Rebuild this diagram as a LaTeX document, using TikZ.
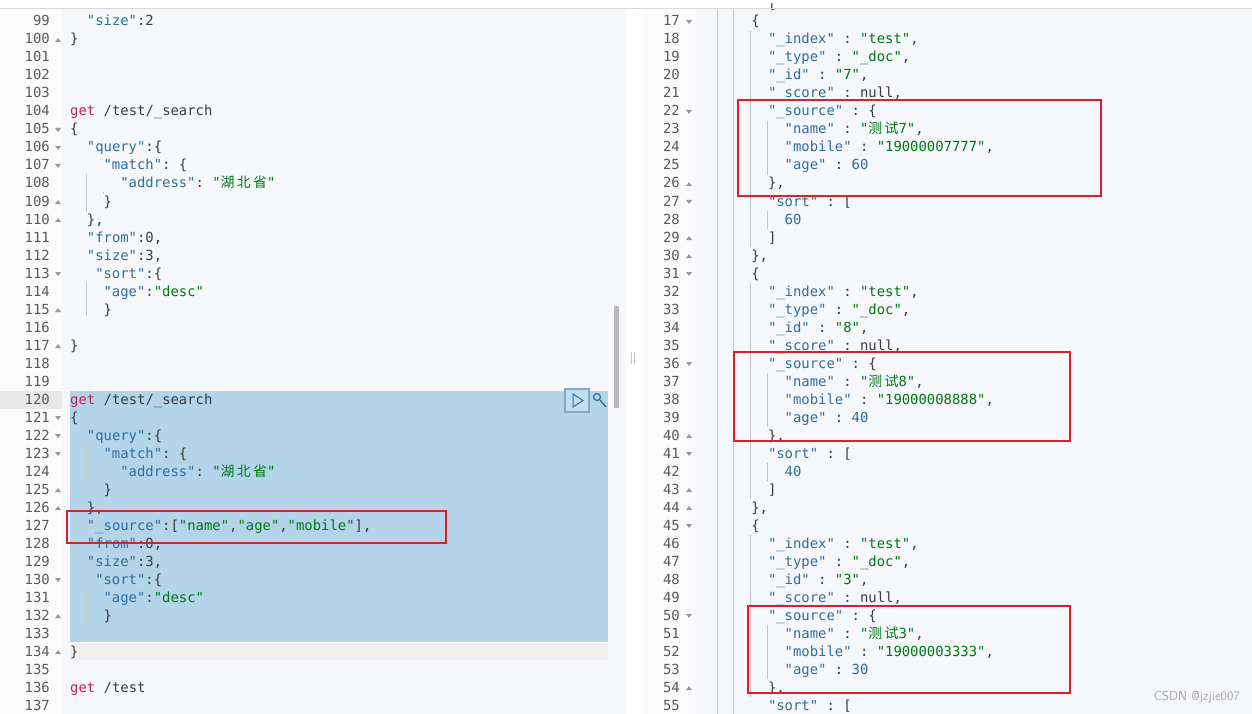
\documentclass[tikz,border=0pt]{standalone}
\usepackage{fontspec}
\setmonofont{DejaVu Sans Mono}
\newfontfamily\cjk{Noto Sans CJK SC}
\definecolor{kc}{RGB}{46,110,160}
\definecolor{sc}{RGB}{0,120,20}
\definecolor{pc}{RGB}{60,60,60}
\definecolor{gc}{RGB}{200,30,80}
\definecolor{nc}{RGB}{90,90,90}
\definecolor{bg}{RGB}{247,248,251}
\definecolor{sel}{RGB}{179,212,233}
\definecolor{rb}{RGB}{225,30,40}
\newcommand\K[1]{\textcolor{kc}{#1}}
\newcommand\St[1]{\textcolor{sc}{#1}}
\newcommand\Cj[1]{{\cjk #1}}
\tikzset{
  code/.style={anchor=base west,inner sep=0,font=\ttfamily\fontsize{13.9}{14}\selectfont,text=pc},
  num/.style={anchor=base east,inner sep=0,font=\ttfamily\fontsize{13.9}{14}\selectfont,text=nc},
  fold/.style={fill=gray!80,draw=none},
  redbox/.style={draw=rb,line width=1.6pt},
  guide/.style={draw=gray!45,line width=0.6pt}
}
\newcommand\Lt[3]{\node[code] at ({70+#2*8.35},{26+(#1-99)*18}) {#3};}
\newcommand\Rt[3]{\node[code] at ({701+#2*8.35},{26+(#1-17)*18}) {#3};}
\newcommand\Fd[2]{\fill[fold] ({#1-3},{#2-2}) -- ({#1+3},{#2-2}) -- (#1,{#2+2}) -- cycle;}
\newcommand\Fu[2]{\fill[fold] ({#1-3},{#2+2}) -- ({#1+3},{#2+2}) -- (#1,{#2-2}) -- cycle;}
\begin{document}
\begin{tikzpicture}[x=1pt,y=-1pt]
\useasboundingbox (0,0) rectangle (1252,714);
\fill[white] (0,0) rectangle (1252,714);
\fill[bg] (0,9) rectangle (625,714);
\fill[bg] (642,9) rectangle (1252,714);
\fill[white!97!gray] (0,9) rectangle (62,714);
\fill[white!97!gray] (642,9) rectangle (695,714);
\node[code] at ({701+8*8.35},9) {[};
\fill[white] (642,0) rectangle (1252,3);
\draw[gray!30] (0,8.5) -- (1252,8.5);
% selection
\fill[sel] (70,391) rectangle (608,642);
\fill[gray!18] (0,391) rectangle (62,409);
\fill[gray!12] (70,643) rectangle (608,660);
% scrollbar
\fill[gray!55] (614,306) rectangle (619,408);
\node[font=\sffamily\fontsize{12}{12}\selectfont,text=gray] at (633,358) {||};
% run button
\draw[kc!60,line width=1.2pt,fill=sel!80] (565,389) rectangle (589,412);
\draw[kc,line width=1pt] (573,394) -- (583,400.5) -- (573,407) -- cycle;
\draw[kc,line width=1.2pt] (597,397) circle (3.5);
\draw[kc,line width=1.4pt] (600,400) -- (606,407);
% left line numbers
\foreach \n in {99,...,137}{\node[num] at (50,{26+(\n-99)*18}) {\n};}
\foreach \n in {105,106,107,113,121,122,123,130}{\Fd{58}{22+(\n-99)*18}}
\foreach \n in {100,109,110,115,117,125,126,132,134}{\Fu{58}{22+(\n-99)*18}}
% left guides
\draw[guide] (86.5,{22+8*18+8}) -- (86.5,{22+11*18-8});
\draw[guide] (103,{22+9*18+8}) -- (103,{22+10*18-8});
\draw[guide] (86.5,{22+14*18+8}) -- (86.5,{22+16*18+6});
\draw[guide] (86.5,{22+23*18+8}) -- (86.5,{22+26*18-8});
\draw[guide] (103,{22+24*18+8}) -- (103,{22+25*18-8});
\draw[guide] (86.5,{22+31*18+8}) -- (86.5,{22+33*18+6});
% left code
\Lt{99}{2}{\K{"size"}:2}
\Lt{100}{0}{\}}
\Lt{104}{0}{\textcolor{gc}{get} /test/\_search}
\Lt{105}{0}{\{}
\Lt{106}{2}{\K{"query"}:\{}
\Lt{107}{4}{\K{"match"}: \{}
\Lt{108}{6}{\K{"address"}: \St{"\Cj{湖\,北\,省}"}}
\Lt{109}{4}{\}}
\Lt{110}{2}{\},}
\Lt{111}{2}{\K{"from"}:0,}
\Lt{112}{2}{\K{"size"}:3,}
\Lt{113}{3}{\K{"sort"}:\{}
\Lt{114}{4}{\K{"age"}:\St{"desc"}}
\Lt{115}{4}{\}}
\Lt{117}{0}{\}}
\Lt{120}{0}{\textcolor{gc}{get} /test/\_search}
\Lt{121}{0}{\{}
\Lt{122}{2}{\K{"query"}:\{}
\Lt{123}{4}{\K{"match"}: \{}
\Lt{124}{6}{\K{"address"}: \St{"\Cj{湖\,北\,省}"}}
\Lt{125}{4}{\}}
\Lt{126}{2}{\},}
\Lt{127}{2}{\K{"\_source"}:[\St{"name"},\St{"age"},\St{"mobile"}],}
\Lt{128}{2}{\K{"from"}:0,}
\Lt{129}{2}{\K{"size"}:3,}
\Lt{130}{3}{\K{"sort"}:\{}
\Lt{131}{4}{\K{"age"}:\St{"desc"}}
\Lt{132}{4}{\}}
\Lt{134}{0}{\}}
\Lt{136}{0}{\textcolor{gc}{get} /test}
% right line numbers
\foreach \n in {17,...,55}{\node[num] at (680,{26+(\n-17)*18}) {\n};}
\foreach \n in {17,22,27,31,36,41,45,50}{\Fd{689}{22+(\n-17)*18}}
\foreach \n in {26,29,30,40,43,44,54}{\Fu{689}{22+(\n-17)*18}}
% right guides
\draw[guide] (717,9) -- (717,714);
\draw[guide] (733,9) -- (733,714);
\foreach \a/\b in {17/30,31/44,45/55}{\draw[guide] (750,{22+(\a-17)*18+9}) -- (750,{22+(\b-17)*18-9});}
\foreach \a in {22,36,50}{\draw[guide] (767,{22+(\a-17)*18+9}) -- (767,{22+(\a+4-17)*18-9});}
\foreach \a in {27,41}{\draw[guide] (767,{22+(\a-17)*18+9}) -- (767,{22+(\a+2-17)*18-9});}
% right code
\foreach \b/\id/\nm/\mb/\ag in {17/7/7/19000007777/60,31/8/8/19000008888/40,45/3/3/19000003333/30}{
  \Rt{\b}{6}{\{}
  \Rt{\b+1}{8}{\K{"\_index"} : \St{"test"},}
  \Rt{\b+2}{8}{\K{"\_type"} : \St{"\_doc"},}
  \Rt{\b+3}{8}{\K{"\_id"} : \St{"\id"},}
  \Rt{\b+4}{8}{\K{"\_score"} : null,}
  \Rt{\b+5}{8}{\K{"\_source"} : \{}
  \Rt{\b+6}{10}{\K{"name"} : \St{"\Cj{测\,试}\nm"},}
  \Rt{\b+7}{10}{\K{"mobile"} : \St{"\mb"},}
  \Rt{\b+8}{10}{\K{"age"} : \K{\ag}}
  \Rt{\b+9}{8}{\},}
}
\foreach \b/\ag in {17/60,31/40}{
  \Rt{\b+10}{8}{\K{"sort"} : [}
  \Rt{\b+11}{10}{\K{\ag}}
  \Rt{\b+12}{8}{]}
  \Rt{\b+13}{6}{\},}
}
\Rt{55}{8}{\K{"sort"} : [}
% red boxes
\draw[redbox] (67,511) rectangle (446,543);
\draw[redbox] (738,100) rectangle (1101,196);
\draw[redbox] (734,352) rectangle (1070,441);
\draw[redbox] (748,606) rectangle (1070,693);
\node[anchor=east,inner sep=0,font=\sffamily\fontsize{13}{13}\selectfont,text=gray!70] at (1240,697) {CSDN @jzjie007};
\end{tikzpicture}
\end{document}
